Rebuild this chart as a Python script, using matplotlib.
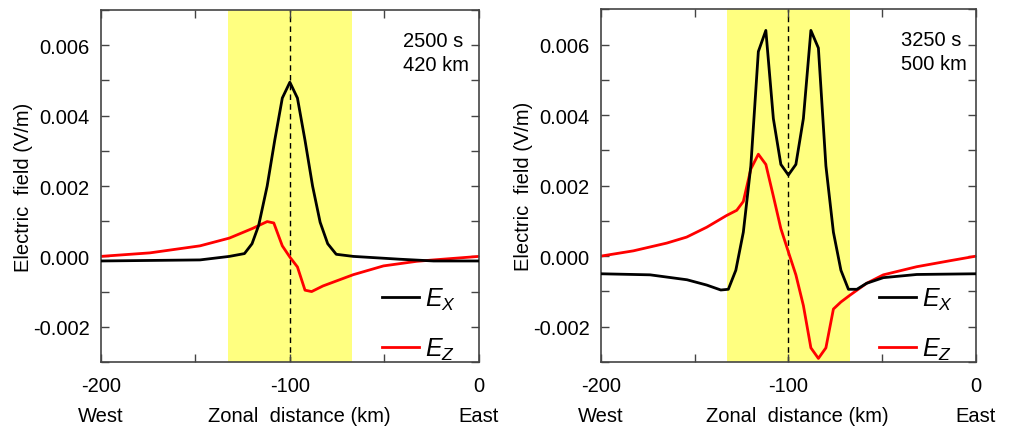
import matplotlib
matplotlib.use("Agg")
import matplotlib.pyplot as plt
from matplotlib.ticker import MultipleLocator, FormatStrFormatter

plt.rcParams["font.family"] = ["Liberation Sans", "DejaVu Sans"]
plt.rcParams["mathtext.fontset"] = "custom"
plt.rcParams["mathtext.it"] = "Liberation Sans:italic"
plt.rcParams["mathtext.rm"] = "Liberation Sans"
plt.rcParams["axes.unicode_minus"] = False

# left panel: 2500 s, 420 km
left_ex_x = [-200, -147.5, -132, -124, -120, -116.5, -112, -108, -104, -100, -96, -92, -88, -84, -80, -75.5, -66.5, -42, -24, 0]
left_ex_y = [-0.00013, -0.0001, 0.0, 0.00008, 0.00036, 0.00088, 0.002, 0.0033, 0.0045, 0.00495,
             0.0045, 0.0033, 0.002, 0.00097, 0.00036, 0.00006, 0.0, -0.00008, -0.00013, -0.00013]
left_ez_x = [-200, -174, -147.5, -132, -119.5, -112, -108.5, -104, -100, -96, -92, -88.5, -82.5, -66.5, -50.5, -33, -24, 0]
left_ez_y = [0.0, 0.0001, 0.0003, 0.00052, 0.0008, 0.00099, 0.00095, 0.0003, -0.00002, -0.0003,
             -0.00096, -0.001, -0.00084, -0.00052, -0.00027, -0.00014, -0.0001, 0.0]

# right panel: 3250 s, 500 km
right_ex_x = [-200, -173.7, -154, -143.5, -136, -132, -128, -124, -120, -116, -112, -108, -104, -100,
              -96, -92, -88, -84, -80, -76, -72, -68, -63.5, -58.3, -49.4, -31.6, 0]
right_ex_y = [-0.0005, -0.00053, -0.00067, -0.00082, -0.00096, -0.00094, -0.0004, 0.00068, 0.00256, 0.0058,
              0.0064, 0.0039, 0.0026, 0.0023, 0.0026, 0.0039, 0.0064, 0.0059, 0.00256, 0.00068,
              -0.0004, -0.00094, -0.00094, -0.00077, -0.00061, -0.00052, -0.0005]
right_ez_x = [-200, -182.6, -164.8, -154.2, -143.5, -133, -127.5, -124, -120, -116, -112, -108, -104, -100,
              -96, -92, -88, -84, -80, -76, -72, -67, -58.3, -49.4, -31.6, -13.9, 0]
right_ez_y = [0.0, 0.00015, 0.00037, 0.00054, 0.00082, 0.00115, 0.0013, 0.00155, 0.00247, 0.00289,
              0.0026, 0.0017, 0.00078, 0.00012, -0.00053, -0.0014, -0.0026, -0.0029, -0.0026, -0.0015,
              -0.0013, -0.0011, -0.00077, -0.00053, -0.0003, -0.00013, 0.0]

panels = [
    (left_ex_x, left_ex_y, left_ez_x, left_ez_y, "2500 s\n420 km"),
    (right_ex_x, right_ex_y, right_ez_x, right_ez_y, "3250 s\n500 km"),
]
band = (-132.5, -67.2)
centre = -100

fig = plt.figure(figsize=(10.13, 4.27), dpi=100)
boxes = [[0.0994, 0.150, 0.3735, 0.824], [0.593, 0.150, 0.3705, 0.826]]

for box, (ex_x, ex_y, ez_x, ez_y, note) in zip(boxes, panels):
    ax = fig.add_axes(box)
    ax.axvspan(band[0], band[1], color="#ffff80", lw=0, zorder=0)
    ax.axvline(centre, color="black", lw=1, ls=(0, (4, 3)), zorder=1)
    ax.plot(ex_x, ex_y, color="black", lw=2, label="$E_X$", zorder=3)
    ax.plot(ez_x, ez_y, color="#ff0000", lw=2, label="$E_Z$", zorder=2)
    ax.set_xlim(-200, 0)
    ax.set_ylim(-0.003, 0.007)
    ax.xaxis.set_major_locator(MultipleLocator(100))
    ax.xaxis.set_minor_locator(MultipleLocator(50))
    ax.yaxis.set_major_locator(MultipleLocator(0.002))
    ax.yaxis.set_minor_locator(MultipleLocator(0.001))
    ax.yaxis.set_major_formatter(FormatStrFormatter("%.3f"))
    ax.tick_params(which="both", direction="in", top=True, right=True, labelsize=14.5,
                   color="#444444", width=1, length=6)
    ax.tick_params(axis="y", pad=8)
    ax.tick_params(axis="x", pad=10)
    for s in ax.spines.values():
        s.set_color("#444444")
        s.set_linewidth(1.2)
    ax.set_ylabel("Electric  field (V/m)", fontsize=14.5, labelpad=0)
    ax.text(0.80, 0.94, note, transform=ax.transAxes, ha="left", va="top",
            fontsize=14.5, linespacing=1.3)
    tr = ax.get_xaxis_transform()
    ax.text(-200, -0.152, "West", transform=tr, ha="center", va="center", fontsize=14.5)
    ax.text(-95, -0.152, "Zonal  distance (km)", transform=tr, ha="center", va="center", fontsize=14.5)
    ax.text(0, -0.152, "East", transform=tr, ha="center", va="center", fontsize=14.5)
    ax.legend(loc="lower right", bbox_to_anchor=(0.998, -0.065), frameon=False, fontsize=18,
              handlelength=1.45, handletextpad=0.25, labelspacing=0.95)

fig.savefig("out.png", dpi=100)
